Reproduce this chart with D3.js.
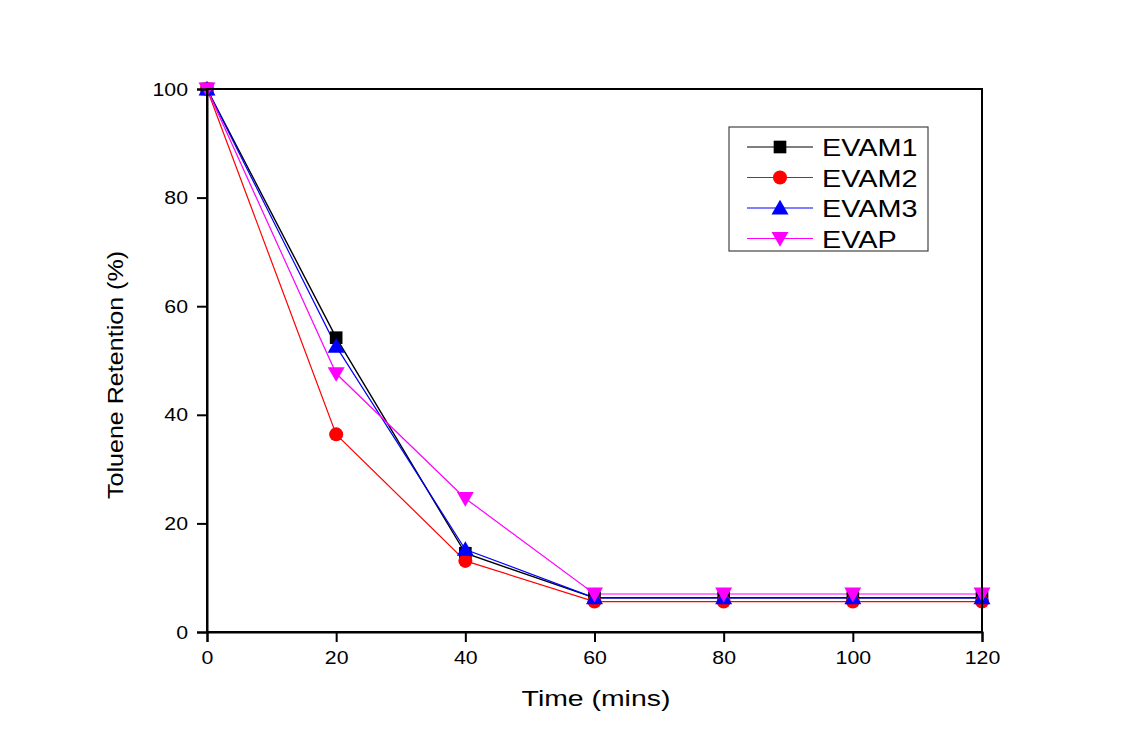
<!DOCTYPE html>
<html><head><meta charset="utf-8">
<script src="https://cdn.jsdelivr.net/npm/d3@7"></script>
<style>body{margin:0;background:#fff;} svg{display:block;font-family:Arial,"Liberation Sans",sans-serif;}</style>
</head><body>
<svg id="c" width="1128" height="750"></svg>
<script>
const times = [0, 20, 40, 60, 80, 100, 120];
const evam1 = [100, 54.2, 14.5, 6.3, 6.3, 6.3, 6.3];
const evam2 = [100, 36.4, 13.1, 5.6, 5.6, 5.6, 5.6];
const evam3 = [100, 52.6, 15.2, 6.3, 6.3, 6.3, 6.3];
const evap  = [100, 47.6, 24.6, 7.0, 7.0, 7.0, 7.0];
const seriesNames = ["EVAM1", "EVAM2", "EVAM3", "EVAP"];
const xTicks = [0, 20, 40, 60, 80, 100, 120];
const yTicks = [0, 20, 40, 60, 80, 100];

const series = [
  {name: seriesNames[0], vals: evam1, color: "#000000", shape: "square"},
  {name: seriesNames[1], vals: evam2, color: "#ff0000", shape: "circle"},
  {name: seriesNames[2], vals: evam3, color: "#0000ff", shape: "up"},
  {name: seriesNames[3], vals: evap,  color: "#ff00ff", shape: "down"}
];

const svg = d3.select("#c");
const L = 207, R = 982, T = 89, B = 632;
const x = d3.scaleLinear().domain([0, 120]).range([L, R]);
const y = d3.scaleLinear().domain([0, 100]).range([B, T]);

function symbolPath(shape) {
  const m = {square: d3.symbolSquare, circle: d3.symbolCircle, up: d3.symbolTriangle, down: d3.symbolTriangle};
  const size = {square: 160, circle: 155, up: 125, down: 125}[shape];
  return d3.symbol().type(m[shape]).size(size)();
}
function symT(shape, cx, cy) {
  const off = shape === "up" ? 1.5 : shape === "down" ? -1.5 : 0;
  return `translate(${cx},${cy + off})` + (shape === "down" ? " rotate(180)" : "");
}
function stretch(sel, f) {
  sel.each(function() {
    const w = this.getComputedTextLength();
    d3.select(this).attr("textLength", w * f).attr("lengthAdjust", "spacingAndGlyphs");
  });
}

const line = d3.line().x((d, i) => x(times[i])).y(d => y(d));
const g = svg.append("g");
series.forEach(s => {
  g.append("path").attr("d", line(s.vals)).attr("fill", "none")
    .attr("stroke", s.color).attr("stroke-width", s.color === "#000000" ? 1.4 : 1.2);
});
series.forEach(s => {
  s.vals.forEach((v, i) => {
    g.append("path").attr("d", symbolPath(s.shape))
      .attr("transform", symT(s.shape, x(times[i]), y(v)))
      .attr("fill", s.color);
  });
});

// frame
svg.append("rect").attr("x", L).attr("y", T).attr("width", R - L).attr("height", B - T)
  .attr("fill", "none").attr("stroke", "#000").attr("stroke-width", 2);

const xAxis = svg.append("g").attr("transform", `translate(0,${B})`)
  .call(d3.axisBottom(x).tickValues(xTicks).tickSize(10).tickPadding(9).tickFormat(d3.format("d")));
const yAxis = svg.append("g").attr("transform", `translate(${L},0)`)
  .call(d3.axisLeft(y).tickValues(yTicks).tickSize(10).tickPadding(9).tickFormat(d3.format("d")));
[xAxis, yAxis].forEach(a => {
  a.select(".domain").attr("stroke-width", 2);
  a.selectAll(".tick line").attr("stroke-width", 2);
  a.selectAll("text").attr("font-size", 19).attr("fill", "#000").attr("font-family", "Arial, 'Liberation Sans', sans-serif");
  stretch(a.selectAll("text"), 1.12);
});

const xl = svg.append("text").attr("x", 596).attr("y", 706).attr("text-anchor", "middle")
  .attr("font-size", 22).text("Time (mins)");
stretch(xl, 1.29);
const yl = svg.append("text").attr("transform", `translate(123,375) rotate(-90)`).attr("text-anchor", "middle")
  .attr("font-size", 22).text("Toluene Retention (%)");
stretch(yl, 1.14);

// legend
const lg = svg.append("g");
lg.append("rect").attr("x", 729).attr("y", 127).attr("width", 199).attr("height", 124)
  .attr("fill", "#fff").attr("stroke", "#444").attr("stroke-width", 1.2);
series.forEach((s, i) => {
  const yy = 147 + i * 30.5;
  lg.append("line").attr("x1", 747).attr("x2", 813).attr("y1", yy).attr("y2", yy)
    .attr("stroke", s.color).attr("stroke-width", 1.2);
  lg.append("path").attr("d", symbolPath(s.shape))
    .attr("transform", symT(s.shape, 780, yy))
    .attr("fill", s.color);
  const t = lg.append("text").attr("x", 822).attr("y", yy + 9).attr("font-size", 24).text(s.name);
  stretch(t, 1.2);
});
</script>
</body></html>
